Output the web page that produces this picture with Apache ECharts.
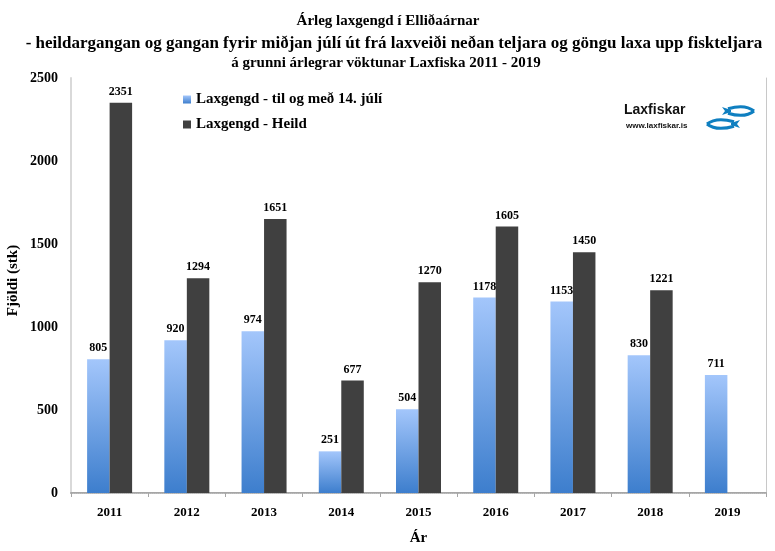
<!DOCTYPE html>
<html>
<head>
<meta charset="utf-8">
<style>html,body{margin:0;padding:0;background:#fff}#chart{width:775px;height:551px}</style>
<script src="https://cdn.jsdelivr.net/npm/echarts@6/dist/echarts.min.js"></script>
</head>
<body>
<div id="chart"></div>
<script>
var years = ['2011', '2012', '2013', '2014', '2015', '2016', '2017', '2018', '2019'];
var toMidJuly = [805, 920, 974, 251, 504, 1178, 1153, 830, 711];
var total = [2351, 1294, 1651, 677, 1270, 1605, 1450, 1221, null];
var titleLines = [
    'Árleg laxgengd í Elliðaárnar',
    '- heildargangan og gangan fyrir miðjan júlí út frá laxveiði neðan teljara og göngu laxa upp fiskteljara',
    'á grunni árlegrar vöktunar Laxfiska 2011 - 2019'
];
var FONT = '"Liberation Serif", serif';
var SANS = '"Liberation Sans", sans-serif';
var lbl = {show: true, position: 'top', distance: 5, fontFamily: FONT, fontWeight: 'bold', fontSize: 12, color: '#000'};
var blueGrad = new echarts.graphic.LinearGradient(0, 0, 0, 1, [
    {offset: 0, color: '#a3c6fb'},
    {offset: 1, color: '#3d7ecd'}
]);

function titleLine(text, cx, top, size) {
    return {
        text: text, left: cx, top: top, textAlign: 'center', padding: 0,
        textStyle: {fontFamily: FONT, fontWeight: 'bold', fontSize: size, color: '#000'}
    };
}

// logo fish: two stroked curves for the body
function fish(noseX, tailX, y) {
    var dir = tailX > noseX ? 1 : -1;
    var len = Math.abs(tailX - noseX);
    var style = {fill: 'none', stroke: '#0f7fc0', lineWidth: 3};
    function curve(bend) {
        return {type: 'bezierCurve', shape: {
            x1: noseX, y1: y, x2: tailX, y2: y + bend * 0.5,
            cpx1: noseX + dir * len * 0.25, cpy1: y + bend * 1.2,
            cpx2: noseX + dir * len * 0.6, cpy2: y + bend * 1.2
        }, style: style};
    }
    return [curve(-4.5), curve(4.5)];
}

var myChart = echarts.init(document.getElementById('chart'));
myChart.setOption({
    animation: false,
    backgroundColor: '#fff',
    title: [
        titleLine(titleLines[0], 388, 14, 15),
        titleLine(titleLines[1], 394, 35, 17),
        titleLine(titleLines[2], 386, 56, 15)
    ],
    legend: {
        left: 178, top: 87, orient: 'vertical', itemGap: 10,
        itemWidth: 8, itemHeight: 8, icon: 'rect',
        textStyle: {fontFamily: FONT, fontWeight: 'bold', fontSize: 15, color: '#000'},
        data: ['Laxgengd - til og með 14. júlí', 'Laxgengd - Heild']
    },
    grid: {left: 71, right: 9, top: 78, bottom: 58, outerBoundsMode: 'none'},
    xAxis: [{
        type: 'category', data: years,
        name: 'Ár', nameLocation: 'middle', nameGap: 38,
        nameTextStyle: {fontFamily: FONT, fontWeight: 'bold', fontSize: 15, color: '#000'},
        axisLine: {lineStyle: {color: '#a6a6a6', width: 2}},
        axisTick: {show: true, length: 4, lineStyle: {color: '#a6a6a6'}},
        axisLabel: {fontFamily: FONT, fontWeight: 'bold', fontSize: 13, color: '#000', margin: 13}
    }, {
        // dotted top edge of the plot
        type: 'category', data: years, position: 'top',
        axisLine: {show: true, lineStyle: {color: '#bdbdbd', type: 'dotted', width: 1}},
        axisTick: {show: false}, axisLabel: {show: false}
    }],
    yAxis: [{
        type: 'value', min: 0, max: 2500, interval: 500,
        name: 'Fjöldi (stk)', nameLocation: 'middle', nameGap: 50, nameMoveOverlap: false,
        nameTextStyle: {fontFamily: FONT, fontWeight: 'bold', fontSize: 15, color: '#000', padding: [0, 0, 0, 10]},
        axisLine: {show: true, lineStyle: {color: '#d9d9d9', width: 2}},
        axisTick: {show: false},
        splitLine: {show: false},
        axisLabel: {fontFamily: FONT, fontWeight: 'bold', fontSize: 14, color: '#000', margin: 13,
            formatter: function (v) { return String(v); }}
    }, {
        // right edge of the plot
        type: 'value', min: 0, max: 2500, interval: 500, position: 'right',
        axisLine: {show: true, lineStyle: {color: '#c8c8c8', width: 1}},
        axisTick: {show: false}, axisLabel: {show: false}, splitLine: {show: false}
    }],
    series: [
        {name: 'Laxgengd - til og með 14. júlí', type: 'bar', data: toMidJuly, barWidth: 22.5, barGap: 0,
            itemStyle: {color: blueGrad}, label: lbl},
        {name: 'Laxgengd - Heild', type: 'bar', data: total, barWidth: 22.5, barGap: 0,
            itemStyle: {color: '#404040'}, label: lbl}
    ],
    graphic: [
        {type: 'text', left: 624, top: 103, style: {text: 'Laxfiskar', fontFamily: SANS, fontWeight: 'bold', fontSize: 14, fill: '#111'}},
        {type: 'text', left: 626, top: 122, style: {text: 'www.laxfiskar.is', fontFamily: SANS, fontWeight: 'bold', fontSize: 8, fill: '#111'}}
    ].concat(fish(754, 728, 111), fish(707, 734, 124), [
        {type: 'polygon', shape: {points: [[722, 107], [731, 110], [731, 112], [722, 115], [725, 111]]}, style: {fill: '#0f7fc0'}},
        {type: 'polygon', shape: {points: [[740, 120], [731, 123], [731, 125], [740, 128], [737, 124]]}, style: {fill: '#0f7fc0'}}
    ])
});
</script>
</body>
</html>
